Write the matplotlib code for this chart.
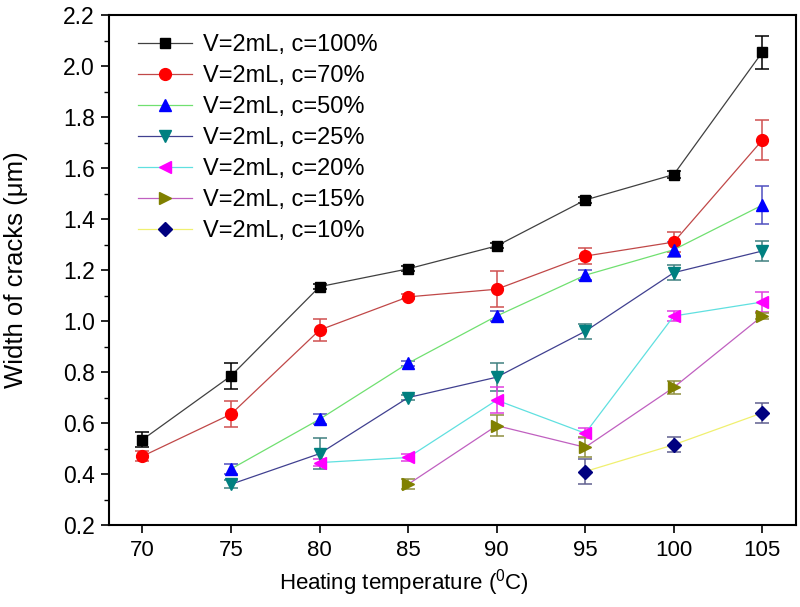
import matplotlib
matplotlib.use("Agg")
import matplotlib.pyplot as plt
import numpy as np

plt.rcParams['font.family'] = ['Liberation Sans', 'DejaVu Sans']
plt.rcParams['mathtext.fontset'] = 'custom'
plt.rcParams['mathtext.rm'] = 'Liberation Sans'

temps = [70, 75, 80, 85, 90, 95, 100, 105]

labels = ["V=2mL, c=100%", "V=2mL, c=70%", "V=2mL, c=50%", "V=2mL, c=25%",
          "V=2mL, c=20%", "V=2mL, c=15%", "V=2mL, c=10%"]

x100 = [70, 75, 80, 85, 90, 95, 100, 105]
y100 = [0.535, 0.785, 1.135, 1.205, 1.295, 1.475, 1.575, 2.055]
e100 = [0.03, 0.05, 0.01, 0.01, 0.01, 0.01, 0.015, 0.065]

x70 = [70, 75, 80, 85, 90, 95, 100, 105]
y70 = [0.47, 0.635, 0.965, 1.095, 1.125, 1.255, 1.31, 1.71]
e70 = [0.02, 0.05, 0.045, 0.01, 0.07, 0.03, 0.04, 0.08]

x50 = [75, 80, 85, 90, 95, 100, 105]
y50 = [0.42, 0.615, 0.835, 1.02, 1.18, 1.28, 1.455]
e50 = [0.02, 0.02, 0.01, 0.02, 0.02, 0.03, 0.075]

x25 = [75, 80, 85, 90, 95, 100, 105]
y25 = [0.36, 0.48, 0.70, 0.78, 0.96, 1.19, 1.275]
e25 = [0.015, 0.06, 0.01, 0.055, 0.03, 0.03, 0.04]

x20 = [80, 85, 90, 95, 100, 105]
y20 = [0.445, 0.465, 0.69, 0.56, 1.02, 1.075]
e20 = [0.015, 0.015, 0.05, 0.02, 0.02, 0.04]

x15 = [85, 90, 95, 100, 105]
y15 = [0.36, 0.59, 0.505, 0.74, 1.02]
e15 = [0.02, 0.04, 0.04, 0.025, 0.01]

x10 = [95, 100, 105]
y10 = [0.41, 0.515, 0.64]
e10 = [0.05, 0.03, 0.04]

series = [(x100, y100, e100), (x70, y70, e70), (x50, y50, e50), (x25, y25, e25),
          (x20, y20, e20), (x15, y15, e15), (x10, y10, e10)]
line_colors = ['#404040', '#c04848', '#70e070', '#404090', '#60e0e0', '#c060c0', '#f0f070']
marker_colors = ['#000000', '#ff0000', '#0000ff', '#008080', '#ff00ff', '#808000', '#000080']
err_colors = ['#000000', '#d05050', '#5050c0', '#408080', '#e040e0', '#909040', '#606090']
markers = ['s', 'o', '^', 'v', '<', '>', 'D']
msizes = [7, 8.5, 9, 9, 9, 9, 7.5]

fig = plt.figure(figsize=(8.0, 6.07), dpi=100)
ax = fig.add_axes([0.136, 0.135, 0.859, 0.84])

for (xs, ys, es), lc, mc, ec, mk, ms, lab in zip(series, line_colors, marker_colors,
                                                  err_colors, markers, msizes, labels):
    ax.errorbar(xs, ys, yerr=es, fmt='none', ecolor=ec, elinewidth=1.1,
                capsize=5, capthick=1.1, zorder=2)
    ax.plot(xs, ys, '-', color=lc, lw=0.9, marker=mk, markersize=ms,
            markerfacecolor=mc, markeredgecolor=mc, label=lab, zorder=3)

ax.set_xlim(68.1, 106.9)
ax.set_ylim(0.2, 2.2)
ax.set_xticks(temps)
ax.set_yticks(np.arange(0.2, 2.21, 0.2))
ax.set_yticks(np.arange(0.3, 2.2, 0.2), minor=True)
ax.tick_params(axis='both', which='major', direction='out', length=6, width=1.2)
ax.tick_params(axis='x', labelsize=16, pad=5)
ax.tick_params(axis='y', labelsize=16.5, pad=4)
ax.tick_params(axis='y', which='minor', direction='out', length=3.5, width=1.0)
ax.yaxis.set_major_formatter(matplotlib.ticker.FormatStrFormatter('%.1f'))
for sp in ax.spines.values():
    sp.set_linewidth(1.5)

ax.set_xlabel(r'Heating temperature ($\mathregular{^0}$C)', fontsize=16, labelpad=4)
ax.xaxis.set_label_coords(0.43, -0.083)
ax.set_ylabel('Width of cracks (μm)', fontsize=18.5)
ax.yaxis.set_label_coords(-0.118, 0.5)

leg = ax.legend(loc='upper left', bbox_to_anchor=(0.035, 0.972), frameon=False,
                fontsize=17, handlelength=2.3, labelspacing=0.38, borderaxespad=0,
                handletextpad=0.45, borderpad=0.2)

fig.savefig('out.png', dpi=100)
